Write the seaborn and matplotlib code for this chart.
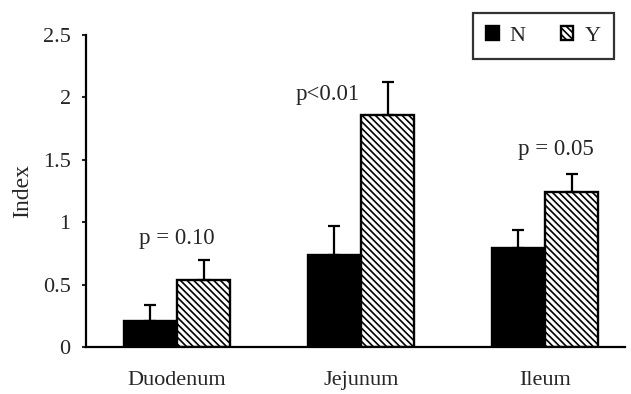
import matplotlib
matplotlib.use('Agg')
import matplotlib.pyplot as plt
import seaborn as sns
import pandas as pd

segments = ["Duodenum", "Jejunum", "Ileum"]
groups = ["N", "Y"]
mean_N = [0.21, 0.74, 0.79]
mean_Y = [0.54, 1.86, 1.24]
err_N = [0.13, 0.23, 0.15]
err_Y = [0.16, 0.26, 0.15]
p_labels = ["p = 0.10", "p<0.01", "p = 0.05"]
y_ticks = [0, 0.5, 1, 1.5, 2, 2.5]
y_tick_labels = ["0", "0.5", "1", "1.5", "2", "2.5"]

# annotation layout (x offset from category, y position)
p_pos = [(0.0, 0.87), (-0.18, 2.02), (0.06, 1.58)]

sns.set_style("ticks")
plt.rcParams['font.family'] = ['Liberation Serif', 'DejaVu Serif']
plt.rcParams['hatch.linewidth'] = 1.2

df = pd.DataFrame({
    "segment": segments * 2,
    "group": ["N"] * 3 + ["Y"] * 3,
    "value": mean_N + mean_Y,
})

fig = plt.figure(figsize=(6.31, 3.94), dpi=100)
W, H = 631, 394
ax = fig.add_axes([86 / W, 1 - 347 / H, (625 - 86) / W, (347 - 35) / H])

sns.barplot(data=df, x="segment", y="value", hue="group",
            palette={"N": "black", "Y": "white"}, width=0.58,
            edgecolor="black", linewidth=1.7, errorbar=None,
            saturation=1, ax=ax, legend=False)

bar_conts = list(ax.containers)
for p in bar_conts[1].patches:
    p.set_hatch("\\\\\\\\\\")

errs = [err_N, err_Y]
means = [mean_N, mean_Y]
for ci, cont in enumerate(bar_conts):
    xs = [p.get_x() + p.get_width() / 2 for p in cont.patches]
    ax.errorbar(xs, means[ci], yerr=[[0] * 3, errs[ci]], fmt="none",
                ecolor="black", elinewidth=1.6, capsize=4, capthick=1.6,
                zorder=1)

for i, (lab, (dx, yy)) in enumerate(zip(p_labels, p_pos)):
    ax.text(i + dx, yy, lab, ha="center", va="center", fontsize=16.5)

ax.set_xlim(-0.495, 2.435)
ax.set_ylim(0, 2.5)
ax.set_yticks(y_ticks)
ax.set_yticklabels(y_tick_labels, fontsize=16)
ax.set_ylabel("Index", fontsize=17, labelpad=7)
ax.set_xlabel("")
ax.tick_params(axis="x", length=0, pad=17, labelsize=16)
ax.tick_params(axis="y", length=3, width=1.5, direction="out", pad=8)
sns.despine(ax=ax)
for s in ["left", "bottom"]:
    ax.spines[s].set_linewidth(1.6)
    ax.spines[s].set_color("black")

handles = [bar_conts[0].patches[0], bar_conts[1].patches[0]]
leg = fig.legend(handles, groups, loc="upper right",
                 bbox_to_anchor=(614 / W, 1 - 13 / H), ncol=2,
                 handlelength=0.55, handleheight=0.55, handletextpad=0.5,
                 columnspacing=1.6, fontsize=16, frameon=True,
                 fancybox=False, borderpad=0.6, borderaxespad=0,
                 edgecolor="black")
leg.get_frame().set_linewidth(1.6)

fig.savefig("out.png", dpi=100)
